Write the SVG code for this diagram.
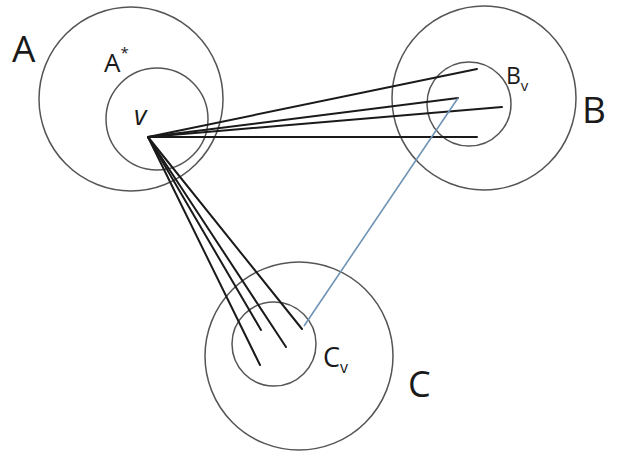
<svg xmlns="http://www.w3.org/2000/svg" width="618" height="457" viewBox="0 0 618 457">
<style>
.ring{fill:none;stroke:#555;stroke-width:1.5}
.edge{stroke:#1a1a1a;stroke-width:2;stroke-linecap:round}
.blue{stroke:#6f93b5;stroke-width:1.6;fill:none}
text{font-family:"Open Sans","Liberation Sans",sans-serif;fill:#1a1a1a}
</style>
<rect width="618" height="457" fill="#fff"/>
<g id="nodeA">
<circle class="ring" cx="131" cy="99" r="92"/>
<text x="12" y="62" font-size="37">A</text>
</g>
<g id="nodeAstar">
<circle class="ring" cx="157" cy="119" r="51"/>
<text x="104" y="72" font-size="26">A<tspan font-size="15" dy="-14">*</tspan></text>
</g>
<g id="nodeV">
<text x="134" y="125" font-size="27" font-style="italic">v</text>
</g>
<g id="nodeB">
<circle class="ring" cx="484" cy="98" r="92"/>
<text x="582" y="123" font-size="37">B</text>
</g>
<g id="nodeBv">
<circle class="ring" cx="469" cy="104" r="42"/>
<text x="506" y="84" font-size="23">B<tspan font-size="15" dy="7">v</tspan></text>
</g>
<g id="nodeC">
<circle class="ring" cx="299" cy="356" r="94"/>
<text x="408" y="397" font-size="36">C</text>
</g>
<g id="nodeCv">
<circle class="ring" cx="274" cy="344" r="42"/>
<text x="323" y="367" font-size="27">C<tspan font-size="16" dy="6">v</tspan></text>
</g>
<g id="connectors">
<line class="edge" x1="148" y1="137" x2="477" y2="69"/>
<line class="edge" x1="148" y1="137" x2="458" y2="98"/>
<line class="edge" x1="148" y1="137" x2="502" y2="107"/>
<line class="edge" x1="148" y1="137" x2="477" y2="137"/>
<line class="edge" x1="148" y1="137" x2="260" y2="365"/>
<line class="edge" x1="148" y1="137" x2="261" y2="330"/>
<line class="edge" x1="148" y1="137" x2="286" y2="347"/>
<line class="edge" x1="148" y1="137" x2="302" y2="329"/>
<line class="blue" x1="458" y1="98" x2="304" y2="326"/>
</g>
</svg>
